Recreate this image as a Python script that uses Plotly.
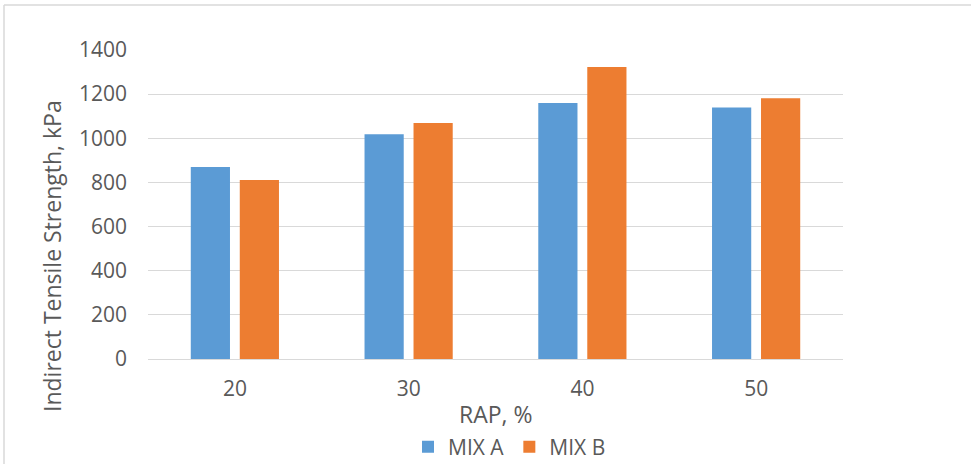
import plotly.graph_objects as go

# RAP content (%) and indirect tensile strength (kPa) for each mix
rap_pct = ["20", "30", "40", "50"]
mix_a = [870, 1018, 1160, 1139]
mix_b = [811, 1069, 1323, 1181]
y_ticks = [0, 200, 400, 600, 800, 1000, 1200, 1400]

FONT = "Open Sans"
TEXT = "#595959"
GRID = "#D9D9D9"

fig = go.Figure()
fig.add_trace(go.Bar(name="MIX A", x=rap_pct, y=mix_a,
                     marker=dict(color="#5B9BD5", line=dict(width=0))))
fig.add_trace(go.Bar(name="MIX B", x=rap_pct, y=mix_b,
                     marker=dict(color="#ED7D31", line=dict(width=0))))

W, H = 971, 464
L, R, T, B = 148, 128, 50, 105
pw, ph = W - L - R, H - T - B

fig.update_layout(
    width=W, height=H,
    margin=dict(l=L, r=R, t=T, b=B, pad=0, autoexpand=False),
    paper_bgcolor="white", plot_bgcolor="white",
    barmode="group", bargap=0.436, bargroupgap=0.2,
    font=dict(family=FONT, size=21, color=TEXT),
    showlegend=True,
    legend=dict(orientation="h", x=0.5 + 14 / pw, xanchor="center",
                y=-88 / ph, yanchor="middle",
                font=dict(family=FONT, size=21, color=TEXT),
                itemwidth=30, traceorder="normal"),
    xaxis=dict(type="category", showgrid=False, showline=True, linecolor=GRID,
               linewidth=1, ticks="", ticklabelstandoff=11,
               tickfont=dict(family=FONT, size=21, color=TEXT)),
    yaxis=dict(range=[0, 1400], tickvals=y_ticks, showgrid=True, gridcolor=GRID,
               gridwidth=1, zeroline=False, showline=False, ticks="",
               ticklabelstandoff=20,
               tickfont=dict(family=FONT, size=21, color=TEXT)),
)

# Axis titles
fig.add_annotation(text="RAP, %", xref="paper", yref="paper",
                   x=0.5, y=-55 / ph, xanchor="center", yanchor="middle",
                   showarrow=False, font=dict(family=FONT, size=23, color=TEXT))
fig.add_annotation(text="Indirect Tensile Strength, kPa", textangle=-90,
                   xref="paper", yref="paper", x=(52 - L) / pw, y=(309 - 256 + T) / ph,
                   xanchor="center", yanchor="middle",
                   showarrow=False, font=dict(family=FONT, size=23, color=TEXT))

# Light frame around the chart area (top and left edges)
fx0 = (4 - L) / pw
fy1 = (H - 5 - B) / ph
fig.add_shape(type="line", xref="paper", yref="paper", x0=fx0, x1=(W - L) / pw,
              y0=fy1, y1=fy1, line=dict(color=GRID, width=1.5))
fig.add_shape(type="line", xref="paper", yref="paper", x0=fx0, x1=fx0,
              y0=-B / ph, y1=fy1, line=dict(color=GRID, width=1.5))

fig.write_html("out.html")
